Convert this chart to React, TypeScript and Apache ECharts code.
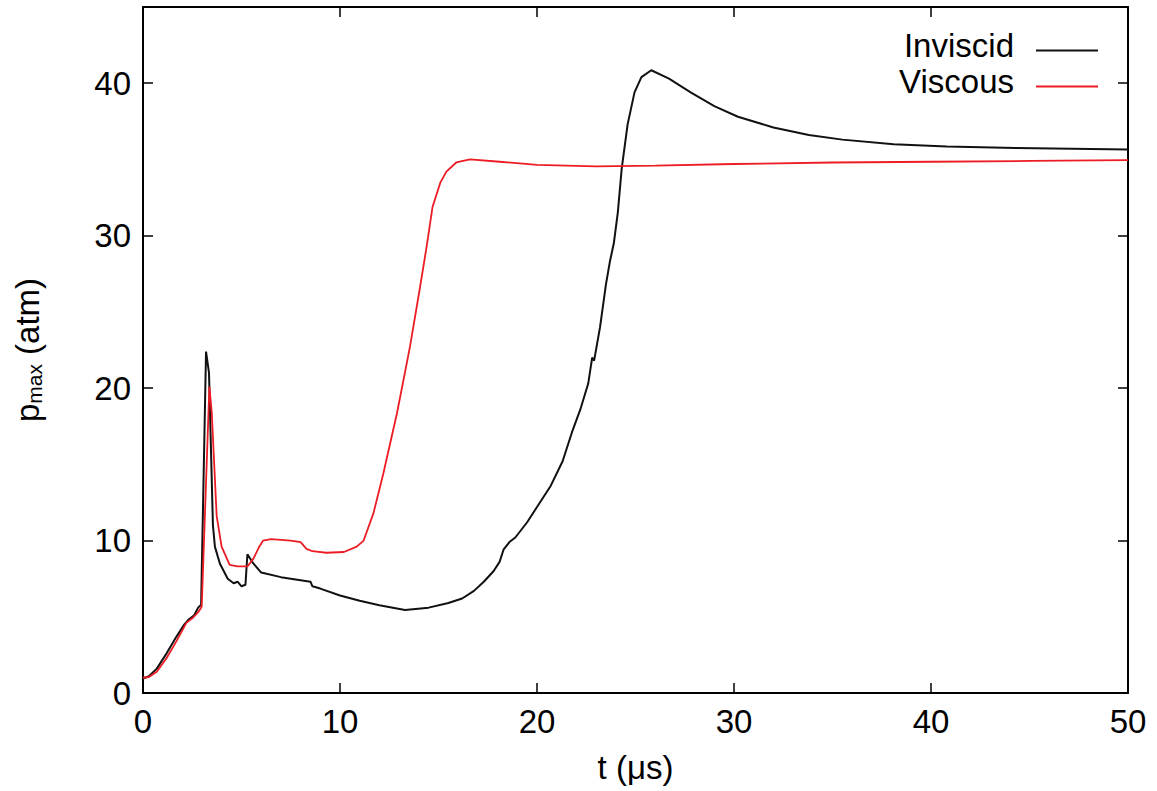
import React, { useEffect, useRef } from "react";
import * as echarts from "echarts";

const inviscidT = [0, 0.3, 0.7, 1.2, 1.7, 2.1, 2.3, 2.6, 2.8, 2.95, 3.2, 3.35, 3.55, 3.65, 3.9, 4.3, 4.6, 4.8, 5.0, 5.2, 5.3, 5.6, 6.0, 7.0, 8.0, 8.5, 8.6, 9.0, 10, 11, 12, 13.3, 14.5, 15.5, 16.2, 16.8, 17.3, 17.8, 18.1, 18.3, 18.6, 18.9, 19.5, 20.0, 20.7, 21.3, 21.8, 22.2, 22.6, 22.8, 22.9, 23.2, 23.5, 23.7, 23.9, 24.1, 24.3, 24.6, 24.95, 25.3, 25.8, 26.7, 27.8, 29.0, 30.2, 32.0, 33.8, 35.5, 38.1, 40.8, 44.3, 50];
const inviscidP = [0.95, 1.1, 1.6, 2.6, 3.7, 4.5, 4.8, 5.1, 5.6, 5.8, 22.4, 21.0, 11.0, 9.6, 8.5, 7.5, 7.2, 7.3, 7.0, 7.1, 9.1, 8.5, 7.9, 7.6, 7.4, 7.3, 7.0, 6.85, 6.4, 6.05, 5.75, 5.45, 5.6, 5.9, 6.2, 6.7, 7.3, 8.0, 8.6, 9.4, 9.9, 10.2, 11.2, 12.2, 13.6, 15.2, 17.2, 18.6, 20.3, 22.0, 21.8, 24.0, 26.8, 28.3, 29.5, 31.5, 34.4, 37.3, 39.4, 40.4, 40.85, 40.3, 39.4, 38.5, 37.8, 37.1, 36.6, 36.3, 36.0, 35.85, 35.75, 35.65];

const viscousT = [0, 0.3, 0.7, 1.2, 1.7, 2.2, 2.5, 2.8, 2.98, 3.37, 3.49, 3.74, 3.99, 4.4, 4.8, 5.3, 5.6, 5.9, 6.1, 6.5, 7.5, 8.0, 8.3, 8.6, 9.3, 10.2, 10.85, 11.2, 11.7, 12.2, 12.9, 13.55, 14.06, 14.4, 14.7, 15.1, 15.4, 15.9, 16.6, 18.1, 20, 23, 26, 30, 35, 40, 45, 50];
const viscousP = [1.0, 1.05, 1.4, 2.3, 3.4, 4.6, 4.9, 5.3, 5.66, 20.1, 18.4, 11.6, 9.6, 8.4, 8.3, 8.3, 8.8, 9.6, 10.0, 10.1, 10.0, 9.9, 9.45, 9.3, 9.2, 9.25, 9.6, 10.0, 11.8, 14.4, 18.4, 22.7, 26.6, 29.3, 31.9, 33.5, 34.2, 34.8, 35.0, 34.85, 34.65, 34.55, 34.6, 34.7, 34.8, 34.85, 34.9, 34.95];

const seriesNames = ["Inviscid", "Viscous"];
const xTitle = "t (μs)";

const FONT = "'Liberation Sans', Arial, Helvetica, sans-serif";
const FS = 33;

export default function App() {
  const ref = useRef<HTMLDivElement>(null);
  useEffect(() => {
    if (!ref.current) return;
    const chart = echarts.init(ref.current, null, { renderer: "svg" });
    const axisLine = { show: true, onZero: false, lineStyle: { color: "#000", width: 2 } };
    const tick = { show: true, inside: true, length: 10, lineStyle: { color: "#000", width: 1.5 } };
    chart.setOption({
      animation: false,
      textStyle: { fontFamily: FONT },
      grid: { left: 143, right: 29, top: 7, bottom: 98, containLabel: false },
      legend: {
        data: seriesNames.map((n) => ({ name: n, icon: "rect" })),
        right: 59,
        top: 29,
        padding: 0,
        orient: "vertical",
        align: "right",
        itemWidth: 62,
        itemHeight: 2,
        itemGap: -7,
        formatter: (name: string) => `{t|${name}}`,
        textStyle: {
          fontSize: FS, fontFamily: FONT, color: "#000", padding: [0, 17, 0, 0],
          rich: { t: { fontSize: FS, fontFamily: FONT, color: "#000", lineHeight: 26, padding: [0, 0, 10, 0] } },
        },
      },
      xAxis: [
        {
          type: "value", min: 0, max: 50, interval: 10, position: "bottom",
          axisLine, axisTick: tick, splitLine: { show: false },
          axisLabel: { color: "#000", fontSize: FS, fontFamily: FONT, margin: 12 },
          name: xTitle, nameLocation: "middle", nameGap: 58,
          nameTextStyle: { color: "#000", fontSize: FS, fontFamily: FONT },
        },
        {
          type: "value", min: 0, max: 50, interval: 10, position: "top",
          axisLine, axisTick: tick, splitLine: { show: false }, axisLabel: { show: false },
        },
      ],
      yAxis: [
        {
          type: "value", min: 0, max: 45, interval: 10, position: "left",
          axisLine, axisTick: tick, splitLine: { show: false },
          axisLabel: { color: "#000", fontSize: FS, fontFamily: FONT, margin: 12, showMaxLabel: false },
          name: "{a|p}{b|max}{a| (atm)}", nameLocation: "middle", nameGap: 98, nameRotate: 90,
          nameTextStyle: {
            color: "#000", fontFamily: FONT,
            rich: {
              a: { fontSize: FS, fontFamily: FONT, color: "#000" },
              b: { fontSize: 21, fontFamily: FONT, color: "#000", padding: [14, 0, 0, 0] },
            },
          },
        },
        {
          type: "value", min: 0, max: 45, interval: 10, position: "right",
          axisLine, axisTick: tick, splitLine: { show: false }, axisLabel: { show: false },
        },
      ],
      series: [
        {
          name: seriesNames[0], type: "line", xAxisIndex: 0, yAxisIndex: 0,
          data: inviscidT.map((t, i) => [t, inviscidP[i]]),
          showSymbol: false, symbol: "none",
          lineStyle: { color: "#111", width: 2 }, itemStyle: { color: "#111" },
        },
        {
          name: seriesNames[1], type: "line", xAxisIndex: 0, yAxisIndex: 0,
          data: viscousT.map((t, i) => [t, viscousP[i]]),
          showSymbol: false, symbol: "none",
          lineStyle: { color: "#ec1c24", width: 1.8 }, itemStyle: { color: "#ec1c24" },
        },
      ],
    });
    return () => chart.dispose();
  }, []);
  return <div ref={ref} style={{ width: 1157, height: 791, position: "absolute", left: 0, top: 0 }} />;
}
